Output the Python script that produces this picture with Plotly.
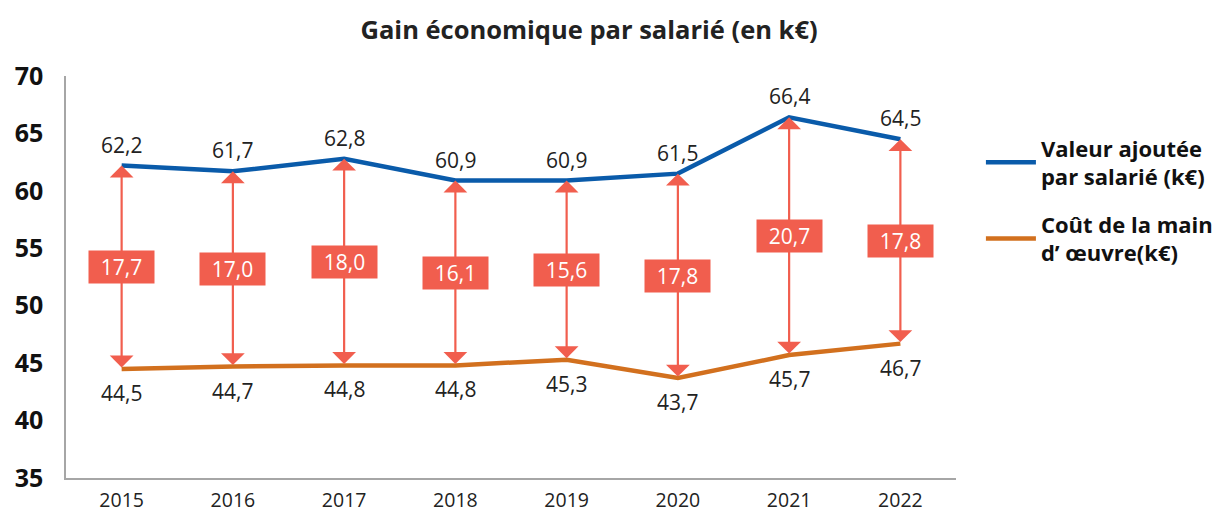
import plotly.graph_objects as go

years = [2015, 2016, 2017, 2018, 2019, 2020, 2021, 2022]
valeur_ajoutee = [62.2, 61.7, 62.8, 60.9, 60.9, 61.5, 66.4, 64.5]
cout_main = [44.5, 44.7, 44.8, 44.8, 45.3, 43.7, 45.7, 46.7]
ecarts = [17.7, 17.0, 18.0, 16.1, 15.6, 17.8, 20.7, 17.8]
y_ticks = [35, 40, 45, 50, 55, 60, 65, 70]

BLUE = "#0A5BAA"
ORANGE = "#D2701E"
RED = "#F15E4E"
FONT = "Open Sans"


def fr(v):
    return f"{v:.1f}".replace(".", ",")


fig = go.Figure()
fig.add_trace(go.Scatter(
    x=years, y=valeur_ajoutee, mode="lines",
    name="Valeur ajoutée<br>par salarié (k€)", legendgroup="va",
    line=dict(color=BLUE, width=4.5),
))
fig.add_trace(go.Scatter(
    x=years, y=cout_main, mode="lines",
    name="Coût de la main<br>d’ œuvre(k€)", legendgroup="cm",
    line=dict(color=ORANGE, width=4.5),
))

annotations = []
for x, top, bot, gap in zip(years, valeur_ajoutee, cout_main, ecarts):
    # double-headed arrow between the two series
    annotations.append(dict(
        x=x, y=top, ax=x, ay=bot, xref="x", yref="y", axref="x", ayref="y",
        text="", showarrow=True, arrowhead=1, startarrowhead=1,
        arrowside="end+start", arrowsize=1.8, startarrowsize=1.8,
        arrowwidth=2.2, arrowcolor=RED, standoff=0, startstandoff=0,
    ))
    # gap label box
    annotations.append(dict(
        x=x, y=(top + bot) / 2, xref="x", yref="y", text=fr(gap),
        showarrow=False, bgcolor=RED, width=63, height=30,
        font=dict(family=FONT, size=21, color="white"),
    ))
    # value labels
    annotations.append(dict(
        x=x, y=top, xref="x", yref="y", text=fr(top), showarrow=False,
        yshift=21, font=dict(family=FONT, size=21, color="#222222"),
    ))
    annotations.append(dict(
        x=x, y=bot, xref="x", yref="y", text=fr(bot), showarrow=False,
        yshift=-24, font=dict(family=FONT, size=21, color="#222222"),
    ))

fig.update_layout(
    width=1222, height=505,
    margin=dict(l=58, r=274, t=68, b=35),
    paper_bgcolor="white", plot_bgcolor="white",
    font=dict(family=FONT, color="#111111"),
    title=dict(
        text="<b>Gain économique par salarié (en k€)</b>",
        x=0.4755, xanchor="center", xref="container",
        y=0.956, yanchor="middle", yref="container",
        font=dict(family=FONT, size=25.5, color="#222222"),
    ),
    showlegend=True,
    legend=dict(
        x=1.028, xanchor="left", y=0.69, yanchor="middle",
        font=dict(family=FONT, size=22, color="#111111", weight="bold"),
        tracegroupgap=16, bgcolor="rgba(0,0,0,0)", itemwidth=50,
    ),
    xaxis=dict(
        range=[2014.5, 2022.5], tickmode="array", tickvals=years,
        ticktext=[str(y) for y in years], showgrid=False, zeroline=False,
        showline=True, linecolor="#A6A6A6", linewidth=1.5,
        ticks="", ticklabelstandoff=4, automargin=False,
        tickfont=dict(family=FONT, size=19.5, color="#222222"),
    ),
    yaxis=dict(
        range=[35, 70], tickmode="array", tickvals=y_ticks,
        showgrid=False, zeroline=False,
        showline=True, linecolor="#A6A6A6", linewidth=1.5,
        ticks="", ticklabelstandoff=16, automargin=False,
        tickfont=dict(family=FONT, size=25, color="#111111", weight="bold"),
    ),
    annotations=annotations,
)

fig.write_html("out.html")
